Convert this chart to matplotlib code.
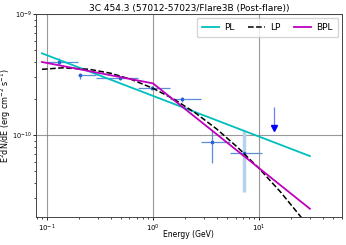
import numpy as np
import matplotlib
matplotlib.use('Agg')
import matplotlib.pyplot as plt

# flux points (GeV, erg cm^-2 s^-1)
energy = np.array([0.13, 0.207, 0.49, 0.98, 1.87, 3.6, 7.2])
e_lo = np.array([0.1, 0.196, 0.289, 0.728, 1.445, 2.82, 5.25])
e_hi = np.array([0.196, 0.289, 0.728, 1.445, 2.82, 5.25, 10.7])
flux = np.array([4.03e-10, 3.13e-10, 2.94e-10, 2.45e-10, 1.97e-10, 8.7e-11, 7.1e-11])
f_lo = np.array([3.8e-10, 2.88e-10, 2.83e-10, 2.35e-10, 1.86e-10, 5.9e-11, 3.4e-11])
f_hi = np.array([4.3e-10, 3.24e-10, 3.05e-10, 2.55e-10, 2.08e-10, 1.1e-10, 1.09e-10])

# upper limit
ul_energy = 13.8
ul_top = 1.7e-10
ul_flux = 1.1e-10

# model curves
pl_e = [0.09, 30.0]
pl_f = [4.73e-10, 6.7e-11]
lp_e = [0.09, 0.141, 0.251, 0.398, 0.631, 1.0, 1.585, 2.512, 3.981, 6.31, 10.0, 15.85, 25.1, 30.0]
lp_f = [3.49e-10, 3.59e-10, 3.49e-10, 3.24e-10, 2.87e-10, 2.43e-10, 1.97e-10, 1.52e-10,
        1.12e-10, 7.86e-11, 5.28e-11, 3.39e-11, 2.07e-11, 1.7e-11]
bpl_e = [0.09, 1.0, 30.0]
bpl_f = [4.01e-10, 2.67e-10, 2.46e-11]

fig = plt.figure(figsize=(3.46, 2.45), dpi=100)
ax = fig.add_axes([0.104, 0.114, 0.884, 0.829])

ax.grid(True, which='major', color='gray', lw=0.8, alpha=0.8)

# x errorbars for all points, y errorbars for the first six
ax.errorbar(energy, flux, xerr=[energy - e_lo, e_hi - energy], fmt='none',
            ecolor='#5b8ed6', elinewidth=0.9)
ax.errorbar(energy[:6], flux[:6], yerr=[flux[:6] - f_lo[:6], f_hi[:6] - flux[:6]],
            fmt='none', ecolor='#5b8ed6', elinewidth=0.9)
ax.vlines(energy[6], f_lo[6], f_hi[6], color='#b5d3ea', lw=2.5)
ax.plot(energy, flux, 's', color='#2a62d2', ms=2)

# upper limit arrow
ax.vlines(ul_energy, ul_flux * 1.08, ul_top, color='#6f7ff5', lw=0.9)
ax.plot(ul_energy, ul_flux * 1.04, 'v', color='blue', ms=5)

ax.plot(pl_e, pl_f, color='c', lw=1.3, label='PL')
ax.plot(lp_e, lp_f, 'k--', lw=1.1, label='LP')
ax.plot(bpl_e, bpl_f, color='m', lw=1.3, label='BPL')

ax.set_xscale('log')
ax.set_yscale('log')
ax.set_xlim(0.079, 60)
ax.set_ylim(2.1e-11, 1e-9)
ax.tick_params(labelsize=5, length=2.5, width=0.6, pad=1.5)
ax.tick_params(axis='y', labelsize=4.8, pad=0.6)
ax.tick_params(which='minor', length=1.5, width=0.5)
for s in ax.spines.values():
    s.set_linewidth(0.7)
    s.set_color('#444444')

ax.set_title('3C 454.3 (57012-57023/Flare3B (Post-flare))', fontsize=6.5, pad=2)
ax.set_xlabel('Energy (GeV)', fontsize=5.5)
ax.set_ylabel(r'E$^2$dN/dE (erg cm$^{-2}$ s$^{-1}$)', fontsize=5.8)
ax.xaxis.set_label_coords(0.5, -0.065)
ax.yaxis.set_label_coords(-0.0765, 0.5)
ax.legend(loc='upper right', ncol=3, fontsize=6.5, handlelength=1.9,
          handletextpad=0.55, columnspacing=1.5, borderpad=0.6,
          borderaxespad=0.4)

fig.savefig('out.png', dpi=100)
